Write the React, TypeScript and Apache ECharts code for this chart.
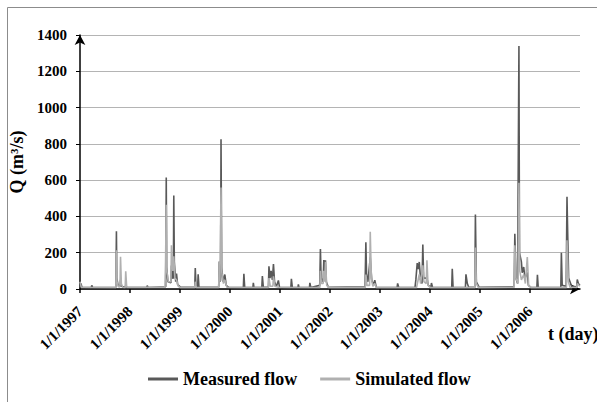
import React, { useEffect, useRef } from "react";
import * as echarts from "echarts";

// Tick labels of the time axis (1 January of each year)
const yearTicks = [1997, 1998, 1999, 2000, 2001, 2002, 2003, 2004, 2005, 2006];
const yTicks = [0, 200, 400, 600, 800, 1000, 1200, 1400];

// Measured flow (m3/s)
const measured: [string, number][] = [
  ["1997-01-01", 12], ["1997-01-08", 30], ["1997-01-15", 10], ["1997-03-24", 8], ["1997-03-28", 20], ["1997-04-04", 8],
  ["1997-09-20", 10], ["1997-09-24", 318], ["1997-09-27", 60], ["1997-10-05", 25], ["1997-10-20", 12], ["1997-10-24", 50],
  ["1997-10-30", 15], ["1997-11-27", 10], ["1997-12-01", 20], ["1997-12-10", 8],
  ["1998-05-03", 8], ["1998-05-07", 18], ["1998-05-15", 8],
  ["1998-09-19", 12], ["1998-09-23", 615], ["1998-09-26", 120], ["1998-10-05", 40], ["1998-10-27", 35], ["1998-10-31", 130],
  ["1998-11-08", 60], ["1998-11-14", 60], ["1998-11-17", 516], ["1998-11-21", 150], ["1998-12-01", 40], ["1998-12-07", 85],
  ["1998-12-15", 25], ["1999-01-05", 10],
  ["1999-04-19", 10], ["1999-04-23", 115], ["1999-04-28", 20], ["1999-05-10", 10], ["1999-05-14", 81], ["1999-05-20", 10],
  ["1999-10-11", 10], ["1999-10-15", 150], ["1999-10-20", 40], ["1999-10-25", 50], ["1999-10-28", 826], ["1999-11-02", 120],
  ["1999-11-12", 40], ["1999-11-25", 80], ["1999-12-05", 20], ["1999-12-25", 8],
  ["2000-04-08", 8], ["2000-04-12", 84], ["2000-04-18", 10], ["2000-06-17", 8], ["2000-06-20", 34], ["2000-06-25", 8],
  ["2000-08-21", 8], ["2000-08-25", 71], ["2000-09-01", 10], ["2000-10-08", 10], ["2000-10-12", 125], ["2000-10-20", 60],
  ["2000-10-28", 100], ["2000-11-06", 50], ["2000-11-14", 138], ["2000-11-22", 40], ["2000-12-05", 12], ["2000-12-20", 47],
  ["2000-12-28", 10],
  ["2001-03-21", 8], ["2001-03-25", 56], ["2001-04-01", 8], ["2001-05-12", 8], ["2001-05-15", 25], ["2001-05-20", 8],
  ["2001-08-04", 8], ["2001-08-07", 34], ["2001-08-14", 8],
  ["2001-10-18", 20], ["2001-10-23", 221], ["2001-10-28", 60], ["2001-11-12", 40], ["2001-11-17", 160], ["2001-11-22", 70],
  ["2001-11-29", 158], ["2001-12-05", 40], ["2001-12-20", 10],
  ["2002-09-14", 12], ["2002-09-20", 258], ["2002-09-25", 80], ["2002-10-05", 40], ["2002-10-22", 174], ["2002-11-02", 50],
  ["2002-11-15", 20], ["2002-11-24", 48], ["2002-12-05", 10],
  ["2003-05-06", 8], ["2003-05-10", 31], ["2003-05-18", 8],
  ["2003-09-14", 10], ["2003-09-20", 50], ["2003-09-30", 143], ["2003-10-08", 110], ["2003-10-15", 149], ["2003-10-22", 80],
  ["2003-11-04", 30], ["2003-11-10", 245], ["2003-11-16", 60], ["2003-12-10", 60], ["2003-12-20", 20], ["2004-01-08", 10],
  ["2004-01-12", 33], ["2004-01-20", 8],
  ["2004-06-08", 8], ["2004-06-12", 112], ["2004-06-18", 8], ["2004-09-16", 8], ["2004-09-20", 81], ["2004-09-30", 30],
  ["2004-10-10", 10], ["2004-11-24", 10], ["2004-11-28", 410], ["2004-12-05", 40], ["2004-12-25", 10],
  ["2005-09-07", 12], ["2005-09-12", 305], ["2005-09-20", 60], ["2005-10-02", 30], ["2005-10-12", 1340], ["2005-10-16", 200],
  ["2005-10-30", 149], ["2005-11-05", 90], ["2005-11-16", 121], ["2005-11-25", 60], ["2005-12-12", 90], ["2005-12-20", 20],
  ["2006-01-10", 8],
  ["2006-02-20", 8], ["2006-02-24", 78], ["2006-03-02", 8], ["2006-08-14", 10], ["2006-08-18", 200], ["2006-08-24", 20],
  ["2006-09-22", 15], ["2006-09-28", 509], ["2006-10-01", 386], ["2006-10-10", 60], ["2006-11-01", 15], ["2006-12-08", 12],
  ["2006-12-12", 52], ["2006-12-20", 30], ["2006-12-31", 20],
];

// Simulated flow (m3/s)
const simulated: [string, number][] = [
  ["1997-01-01", 40], ["1997-01-10", 10], ["1997-09-20", 8], ["1997-09-24", 213], ["1997-09-28", 40], ["1997-10-08", 12],
  ["1997-10-20", 12], ["1997-10-24", 177], ["1997-10-30", 30], ["1997-11-08", 10], ["1997-11-27", 8], ["1997-12-01", 98],
  ["1997-12-08", 10],
  ["1998-09-14", 10], ["1998-09-18", 150], ["1998-09-23", 465], ["1998-09-27", 100], ["1998-10-08", 40], ["1998-10-27", 40],
  ["1998-10-31", 241], ["1998-11-10", 100], ["1998-11-17", 180], ["1998-11-25", 60], ["1998-12-07", 50], ["1998-12-20", 15],
  ["1999-01-05", 8],
  ["1999-04-19", 8], ["1999-04-23", 40], ["1999-05-01", 8],
  ["1999-10-11", 8], ["1999-10-15", 153], ["1999-10-20", 40], ["1999-10-25", 40], ["1999-10-28", 560], ["1999-11-03", 90],
  ["1999-11-15", 30], ["1999-11-25", 50], ["1999-12-10", 10],
  ["2000-10-08", 8], ["2000-10-12", 60], ["2000-10-22", 15], ["2000-11-10", 15], ["2000-11-14", 70], ["2000-11-25", 15],
  ["2000-12-20", 10],
  ["2001-10-19", 8], ["2001-10-23", 100], ["2001-10-30", 30], ["2001-11-12", 30], ["2001-11-17", 100], ["2001-11-23", 40],
  ["2001-11-29", 150], ["2001-12-08", 20], ["2001-12-25", 8],
  ["2002-09-16", 8], ["2002-09-20", 80], ["2002-09-28", 20], ["2002-10-17", 20], ["2002-10-22", 315], ["2002-10-30", 60],
  ["2002-11-10", 15], ["2002-11-24", 30], ["2002-12-05", 8],
  ["2003-09-25", 8], ["2003-10-15", 80], ["2003-10-25", 30], ["2003-11-10", 130], ["2003-11-18", 40], ["2003-12-05", 30],
  ["2003-12-10", 158], ["2003-12-18", 20], ["2004-01-05", 8],
  ["2004-11-24", 8], ["2004-11-28", 228], ["2004-12-05", 30], ["2004-12-20", 8],
  ["2005-09-07", 10], ["2005-09-12", 241], ["2005-09-20", 60], ["2005-10-05", 30], ["2005-10-12", 585], ["2005-10-18", 100],
  ["2005-10-30", 50], ["2005-11-16", 80], ["2005-11-28", 30], ["2005-12-12", 176], ["2005-12-22", 20], ["2006-01-10", 8],
  ["2006-09-24", 8], ["2006-09-28", 268], ["2006-10-08", 40], ["2006-10-20", 10], ["2006-12-08", 8], ["2006-12-12", 30],
  ["2006-12-31", 15],
];

const FONT = "Liberation Serif";

export default function App() {
  const ref = useRef<HTMLDivElement>(null);
  useEffect(() => {
    document.body.style.margin = "0";
    const chart = echarts.init(ref.current!, null, { renderer: "svg" });
    chart.setOption({
      animation: false,
      backgroundColor: "#ffffff",
      textStyle: { fontFamily: FONT },
      grid: { left: 80, right: 17, top: 35, bottom: 113, containLabel: false },
      legend: {
        bottom: 9,
        left: 143,
        itemWidth: 30,
        itemHeight: 3,
        itemGap: 23,
        icon: "rect",
        textStyle: { fontFamily: FONT, fontWeight: "bold", fontSize: 18, color: "#000" },
        data: ["Measured flow", "Simulated flow"],
      },
      xAxis: {
        type: "time",
        min: `${yearTicks[0]}-01-01`,
        max: `${yearTicks[yearTicks.length - 1] + 1}-01-01`,
        minInterval: 365 * 86400000,
        maxInterval: 366 * 86400000,
        splitNumber: yearTicks.length,
        axisLine: {
          show: true,
          lineStyle: { color: "#000", width: 1.5 },
          symbol: ["none", "arrow"],
          symbolSize: [8, 10],
        },
        axisTick: { show: true, length: 4, lineStyle: { color: "#000", width: 1.5 } },
        splitLine: { show: false },
        axisLabel: {
          rotate: 45,
          margin: 20,
          fontFamily: FONT,
          fontWeight: "bold",
          fontSize: 15,
          color: "#000",
          formatter: (v: number) => {
            const y = new Date(v).getFullYear();
            return yearTicks.includes(y) ? `1/1/${y}` : "";
          },
        },
      },
      yAxis: {
        type: "value",
        min: yTicks[0],
        max: yTicks[yTicks.length - 1],
        interval: 200,
        name: "Q (m³/s)",
        nameLocation: "middle",
        nameGap: 46,
        nameTextStyle: { fontFamily: FONT, fontWeight: "bold", fontSize: 18, color: "#000" },
        axisLine: {
          show: true,
          lineStyle: { color: "#000", width: 1.5 },
          symbol: ["none", "arrow"],
          symbolSize: [8, 10],
        },
        axisTick: { show: true, length: 4, lineStyle: { color: "#000" } },
        splitLine: { show: true, lineStyle: { color: "#b4b4b4", width: 1 } },
        axisLabel: {
          margin: 13,
          fontFamily: FONT,
          fontWeight: "bold",
          fontSize: 15,
          color: "#000",
          formatter: (v: number) => String(v),
        },
      },
      series: [
        {
          name: "Measured flow",
          type: "line",
          data: measured,
          showSymbol: false,
          symbol: "none",
          lineStyle: { color: "#595959", width: 1.6 },
          itemStyle: { color: "#595959" },
          z: 2,
        },
        {
          name: "Simulated flow",
          type: "line",
          data: simulated,
          showSymbol: false,
          symbol: "none",
          lineStyle: { color: "#b0b0b0", width: 1.6 },
          itemStyle: { color: "#b0b0b0" },
          z: 3,
        },
      ],
      graphic: [
        {
          type: "rect",
          shape: { x: 7.5, y: 7.5, width: 600, height: 400 },
          style: { fill: "none", stroke: "#8c8c8c", lineWidth: 1 },
          silent: true,
        },
        {
          type: "text",
          left: 548,
          top: 325,
          style: { text: "t (day)", fontFamily: FONT, fontWeight: "bold", fontSize: 18, fill: "#000" },
        },
      ],
    });
    return () => chart.dispose();
  }, []);
  return <div ref={ref} style={{ width: 597, height: 402 }} />;
}
